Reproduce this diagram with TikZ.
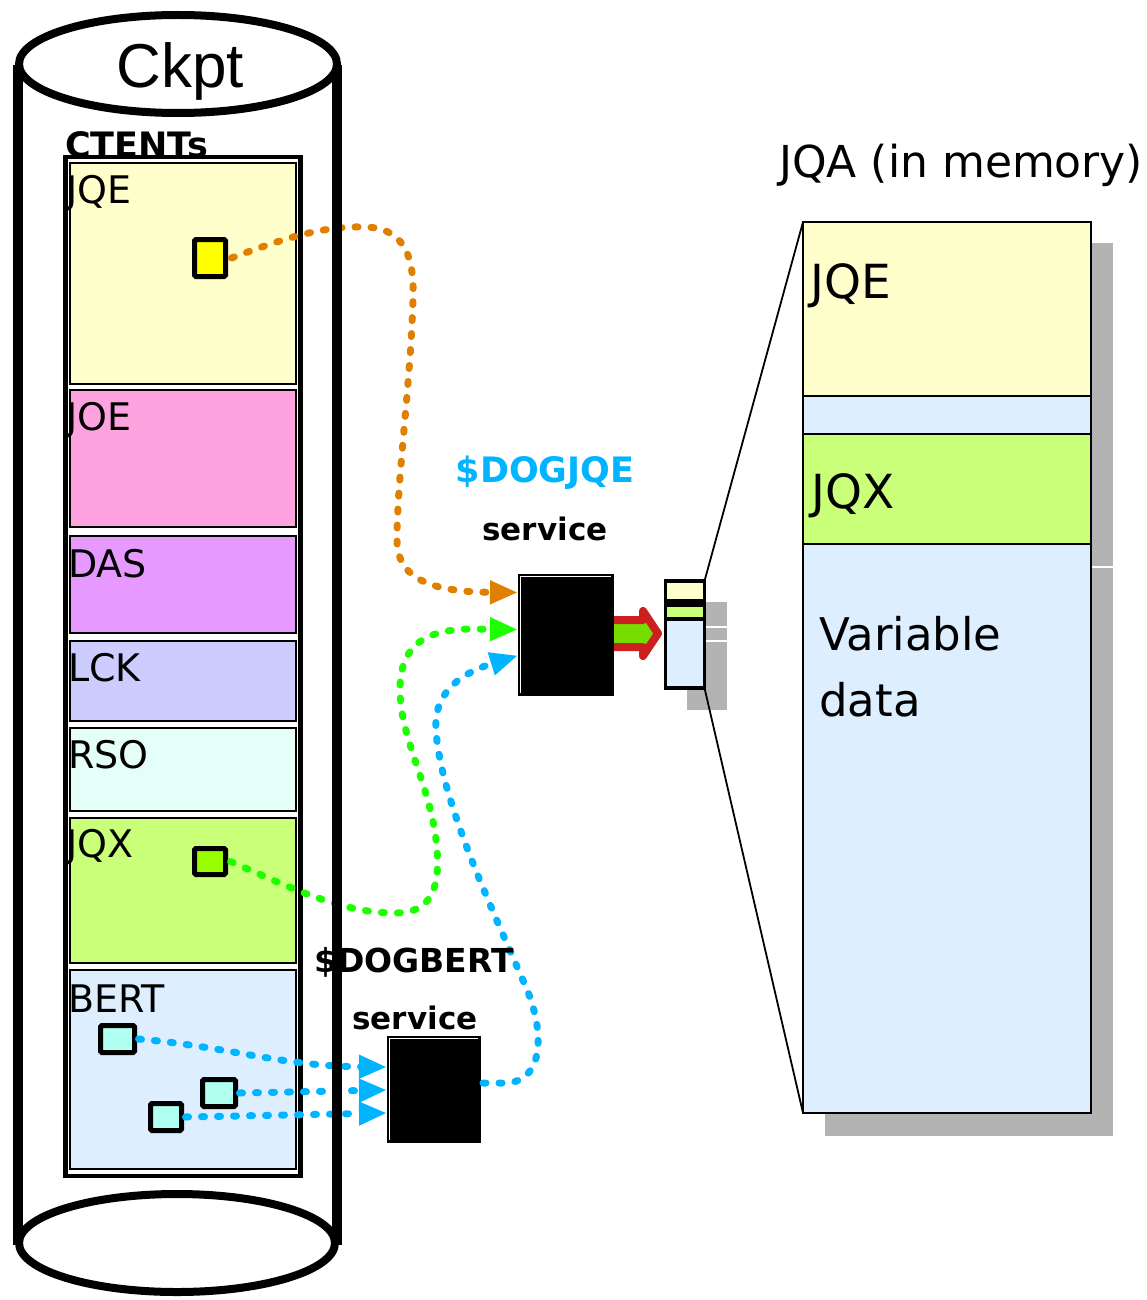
\documentclass[tikz,border=0pt]{standalone}
\usepackage{fontspec}
\setmainfont{DejaVu Sans}
\newfontfamily\arialfont{Liberation Sans}
\usetikzlibrary{arrows.meta}
\definecolor{cjqe}{HTML}{FFFFCC}
\definecolor{cjoe}{HTML}{FFA3E0}
\definecolor{cdas}{HTML}{E699FF}
\definecolor{clck}{HTML}{CCCCFF}
\definecolor{crso}{HTML}{E3FFF8}
\definecolor{cjqx}{HTML}{CAFF7A}
\definecolor{cbert}{HTML}{DDEEFF}
\definecolor{cyel}{HTML}{FFFF00}
\definecolor{cgrn}{HTML}{99FF00}
\definecolor{ccyan}{HTML}{B0FFF0}
\definecolor{corange}{HTML}{E08000}
\definecolor{cgreenline}{HTML}{1EFF00}
\definecolor{cblue}{HTML}{00B4FF}
\definecolor{cred}{HTML}{CC1F1F}
\definecolor{carrowgrn}{HTML}{77DD00}
\definecolor{cshadow}{HTML}{B3B3B3}
\begin{document}
\begin{tikzpicture}[x=1pt,y=-1pt,
  ent/.style={draw=black, line width=2.5pt, inner sep=0pt, outer sep=0pt, anchor=north west},
  lent/.style={draw=black, line width=1.8pt, inner sep=0pt, outer sep=0pt, anchor=north west, minimum width=226pt},
  ms/.style={draw=black, line width=3.5pt, inner sep=0pt, outer sep=0pt, anchor=north west, minimum width=39pt},
  sqbox/.style={draw=black, line width=5pt, rounded corners=1.5pt, inner sep=0pt, outer sep=0pt},
  svc/.style={fill=black, draw=black, line width=1pt, inner sep=0pt, outer sep=0pt, anchor=north west},
  conn/.style={line width=7pt, line cap=round, dash pattern=on 3pt off 13pt, -{Triangle[length=28pt,width=22pt]}},
  llbl/.style={font=\fontsize{38}{44}\selectfont, inner sep=0pt, anchor=base west},
  rlbl/.style={font=\fontsize{47}{54}\selectfont, inner sep=0pt, anchor=base west},
  svlbl/.style={font=\bfseries\fontsize{34}{40}\selectfont, inner sep=0pt, anchor=base},
  wall/.style={line width=10pt},
  rim/.style={line width=8pt}
]
\useasboundingbox (0,0) rectangle (1146,1300);

% ---- shadows
\fill[cshadow] (825,243) rectangle (1113,1136);
\draw[white, line width=2pt] (1092,567) -- (1113,567);
\fill[cshadow] (687,602) rectangle (727,710);
\draw[white, line width=2pt] (705,627) -- (727,627) (705,641) -- (727,641);

% ---- JQA in memory
\node[ent, fill=cjqe, minimum width=288pt, minimum height=174pt] (qjqe) at (803,222) {};
\node[ent, fill=cbert, minimum width=288pt, minimum height=38pt] (qgap) at (803,396) {};
\node[ent, fill=cjqx, minimum width=288pt, minimum height=110pt] (qjqx) at (803,434) {};
\node[ent, fill=cbert, minimum width=288pt, minimum height=569pt] (qvar) at (803,544) {};
\node[rlbl] (tqjqe) at (810,298) {JQE};
\node[rlbl] (tqjqx) at (811,508) {JQX};
\node[rlbl, font=\fontsize{45}{52}\selectfont] (tvar) at (819,650) {Variable};
\node[rlbl, font=\fontsize{45}{52}\selectfont] (tdata) at (819,716) {data};
\node[font=\fontsize{44}{50}\selectfont, inner sep=0pt, anchor=base west] (tjqa) at (779,178) {JQA (in memory)};

% ---- small stack
\node[ms, fill=cjqe, minimum height=20pt] (m1) at (665.5,581) {};
\node[ms, fill=cbert, minimum height=4pt] (m2) at (665.5,601) {};
\node[ms, fill=cjqx, minimum height=14pt] (m3) at (665.5,605) {};
\node[ms, fill=cbert, minimum height=69pt] (m4) at (665.5,619) {};
\draw[line width=1.8pt] (m1.north east) -- (qjqe.north west);
\draw[line width=1.8pt] (m4.south east) -- (qvar.south west);

% ---- red block arrow
\draw[cred, fill=carrowgrn, line width=8pt, line join=round]
  (608,620) -- (643,620) -- (643,611) -- (658,633.5) -- (643,656) -- (643,647) -- (608,647) -- cycle;

% ---- service boxes
\node[svc, minimum width=95pt, minimum height=121pt] (sjqe) at (518,574) {};
\draw[white, line width=1pt] ([xshift=2.5pt,yshift=2pt]sjqe.south west) |- ([xshift=-2pt,yshift=-2.5pt]sjqe.north east);
\node[svc, minimum width=93pt, minimum height=106pt] (sbert) at (387,1036) {};
\draw[white, line width=1pt] ([xshift=2.5pt,yshift=2pt]sbert.south west) |- ([xshift=-2pt,yshift=-2.5pt]sbert.north east);

% ---- CTENTs
\node[font=\bfseries\fontsize{35}{40}\selectfont, inner sep=0pt, anchor=base west] (tctents) at (65,158) {CTENTs};
\node[draw=black, line width=4.5pt, inner sep=0pt, outer sep=0pt, anchor=north west, minimum width=235pt, minimum height=1019pt] (frame) at (65.5,157) {};
\node[lent, fill=cjqe, minimum height=221pt] (ejqe) at (70,163) {};
\node[lent, fill=cjoe, minimum height=137pt] (ejoe) at (70,390) {};
\node[lent, fill=cdas, minimum height=97pt] (edas) at (70,536) {};
\node[lent, fill=clck, minimum height=80pt] (elck) at (70,641) {};
\node[lent, fill=crso, minimum height=83pt] (erso) at (70,728) {};
\node[lent, fill=cjqx, minimum height=145pt] (ejqx) at (70,818) {};
\node[lent, fill=cbert, minimum height=199pt] (ebert) at (70,970) {};
\node[llbl] (tjqe) at (66,204) {JQE};
\node[llbl] (tjoe) at (66,430) {JOE};
\node[llbl] (tdas) at (68,577) {DAS};
\node[llbl] (tlck) at (68,681) {LCK};
\node[llbl] (trso) at (68,768) {RSO};
\node[llbl] (tjqx) at (66,857) {JQX};
\node[llbl] (tbert) at (68,1012) {BERT};

% ---- small squares
\node[sqbox, fill=cyel, minimum width=31pt, minimum height=37pt] (ysq) at (210,258) {};
\node[sqbox, fill=cgrn, minimum width=31pt, minimum height=26pt] (gsq) at (210,861.5) {};
\node[sqbox, fill=ccyan, minimum width=34pt, minimum height=27pt] (c1) at (117.5,1039) {};
\node[sqbox, fill=ccyan, minimum width=33pt, minimum height=27pt] (c2) at (219,1093) {};
\node[sqbox, fill=ccyan, minimum width=31pt, minimum height=27pt] (c3) at (166,1117) {};

% ---- connectors
\draw[conn, corange] ([xshift=6pt]ysq.east) .. controls (290,236) and (325,226) .. (365,227)
  .. controls (400,228) and (415,250) .. (413,300)
  .. controls (410,390) and (397,480) .. (397,540)
  .. controls (397,578) and (430,592) .. ([yshift=42pt]sjqe.west);
\draw[conn, cgreenline] ([xshift=5pt]gsq.east) .. controls (300,892) and (345,913) .. (395,913)
  .. controls (430,913) and (440,890) .. (437,850)
  .. controls (433,790) and (400,740) .. (400,690)
  .. controls (400,645) and (425,630) .. (470,629) -- ([yshift=5pt]sjqe.west);
\draw[conn, cblue] ([xshift=3pt,yshift=6pt]sbert.east) -- (505,1083)
  .. controls (545,1082) and (545,1030) .. (525,985)
  .. controls (495,915) and (440,800) .. (436,730)
  .. controls (433,690) and (465,672) .. ([yshift=-21pt]sjqe.west);
\draw[conn, cblue] ([xshift=4pt]c1.east) .. controls (230,1047) and (280,1066) .. ([yshift=22pt]sbert.west);
\draw[conn, cblue] ([xshift=4pt]c2.east) -- ([yshift=-1pt]sbert.west);
\draw[conn, cblue] ([xshift=4pt]c3.east) -- ([yshift=-24pt]sbert.west);

% ---- service labels
\node[svlbl, text=cblue, font=\bfseries\fontsize{35}{40}\selectfont] (tdogjqe) at (545,482) {\$DOGJQE};
\node[svlbl, font=\bfseries\fontsize{31}{36}\selectfont] (tsvc1) at (545,540) {service};
\node[svlbl, font=\bfseries\fontsize{33}{38}\selectfont] (tdogbert) at (414,972) {\$DOGBERT};
\node[svlbl, font=\bfseries\fontsize{31}{36}\selectfont] (tsvc2) at (415,1029) {service};

% ---- cylinder
\draw[wall] (18,65) -- (18,1245);
\draw[wall] (337,65) -- (337,1245);
\draw[rim] (177,1243) ellipse [x radius=158pt, y radius=49pt];
\draw[rim, fill=white] (178,64) ellipse [x radius=159pt, y radius=49pt];
\node[font=\arialfont\fontsize{62}{70}\selectfont, inner sep=0pt, anchor=base] (tckpt) at (180,88) {Ckpt};
\end{tikzpicture}
\end{document}
